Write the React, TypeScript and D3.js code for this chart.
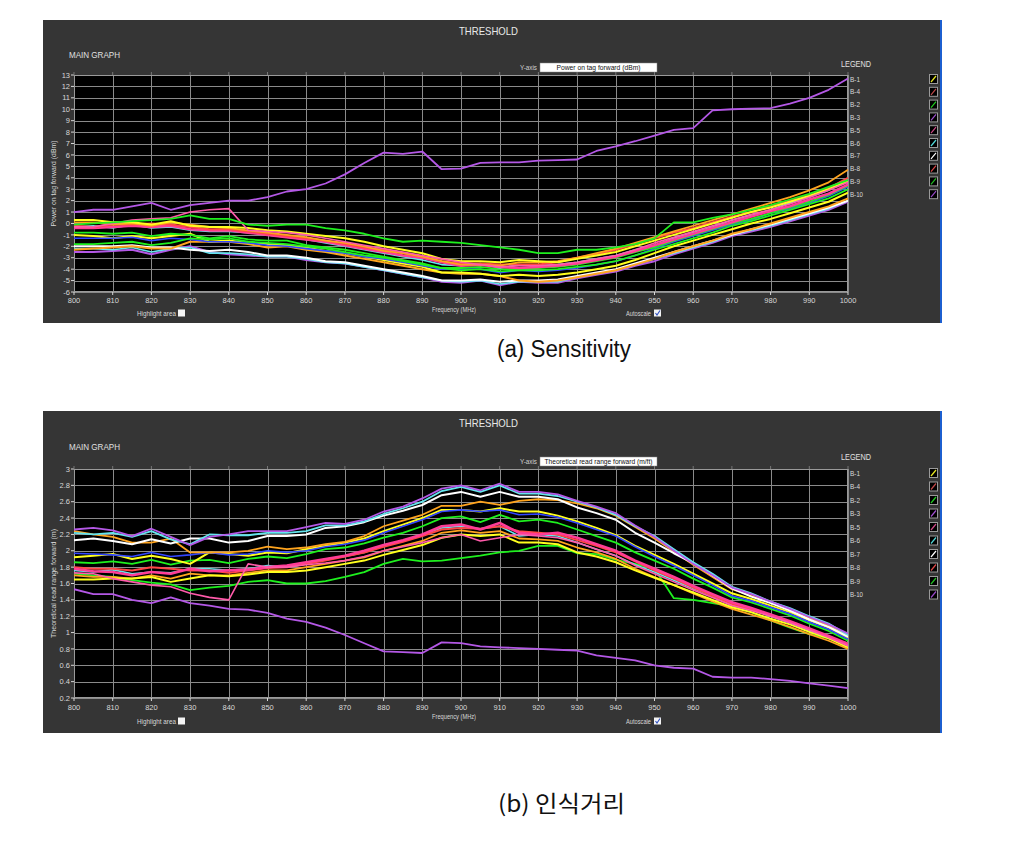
import React from 'react';
import * as d3 from 'd3';

// ---------- categories / ticks ----------
const FREQ = [800,805,810,815,820,825,830,835,840,845,850,855,860,865,870,875,880,885,890,895,900,905,910,915,920,925,930,935,940,945,950,955,960,965,970,975,980,985,990,995,1000];
const X_TICKS = [800,810,820,830,840,850,860,870,880,890,900,910,920,930,940,950,960,970,980,990,1000];
const SENS_Y_TICKS = [-6,-5,-4,-3,-2,-1,0,1,2,3,4,5,6,7,8,9,10,11,12,13];
const RANGE_Y_TICKS = [0.2,0.4,0.6,0.8,1,1.2,1.4,1.6,1.8,2,2.2,2.4,2.6,2.8,3];
const LEGEND_NAMES = ['B-1','B-4','B-2','B-3','B-5','B-6','B-7','B-8','B-9','B-10'];
const LEGEND_COLORS = ['#e8e820','#c04848','#20d020','#a050d0','#d04888','#50d8d8','#ffffff','#e04848','#20c020','#9848c8'];

// ---------- (a) Sensitivity: Power on tag forward (dBm) ----------
const S_PURPLE_TOP = [1.0,1.2,1.2,1.5,1.8,1.2,1.6,1.8,2.0,2.0,2.3,2.8,3.0,3.5,4.3,5.3,6.2,6.1,6.3,4.75,4.8,5.3,5.35,5.35,5.5,5.55,5.6,6.35,6.75,7.2,7.7,8.2,8.35,9.9,10.0,10.05,10.1,10.5,11.0,11.7,12.7];
const S_GREEN_1 = [-0.1,0.0,0.1,0.2,0.3,0.4,0.7,0.4,0.4,-0.1,-0.2,-0.1,-0.1,-0.4,-0.6,-0.9,-1.3,-1.6,-1.5,-1.6,-1.7,-1.9,-2.1,-2.3,-2.6,-2.6,-2.3,-2.3,-2.1,-1.8,-1.3,0.1,0.1,0.5,0.8,1.2,1.6,2.1,2.6,3.2,3.8];
const S_PINK_SPIKE = [-0.3,-0.3,0.0,0.3,0.4,0.5,1.0,1.2,1.3,-0.6,-0.7,-0.8,-1.0,-1.3,-1.6,-1.9,-2.2,-2.5,-2.8,-3.1,-3.4,-3.6,-3.8,-3.7,-3.7,-3.6,-3.4,-3.1,-2.8,-2.3,-1.7,-1.2,-0.7,-0.2,0.3,0.8,1.2,1.7,2.3,2.9,3.6];
const S_YELLOW_1 = [0.3,0.3,0.1,0.1,-0.1,0.2,-0.2,-0.3,-0.3,-0.4,-0.6,-0.7,-0.9,-1.1,-1.3,-1.6,-2.0,-2.3,-2.6,-3.1,-3.3,-3.3,-3.4,-3.2,-3.3,-3.4,-3.1,-2.8,-2.5,-2.0,-1.5,-1.0,-0.5,0.0,0.5,1.0,1.4,1.9,2.4,3.0,3.7];
const S_ORANGE_1 = [0.1,0.1,-0.1,0.0,-0.2,0.1,-0.1,-0.3,-0.4,-0.6,-0.8,-1.0,-1.2,-1.5,-1.7,-2.0,-2.4,-2.6,-2.9,-3.3,-3.6,-3.6,-3.7,-3.4,-3.4,-3.3,-3.0,-2.6,-2.2,-1.7,-1.2,-0.7,-0.2,0.3,0.8,1.3,1.8,2.3,2.9,3.6,4.7];
const S_RED_1 = [-0.2,-0.3,-0.1,-0.1,0.0,-0.1,-0.3,-0.5,-0.5,-0.7,-0.9,-1.1,-1.3,-1.5,-1.8,-2.1,-2.3,-2.6,-2.9,-3.3,-3.5,-3.5,-3.6,-3.6,-3.6,-3.4,-3.0,-2.7,-2.3,-1.8,-1.3,-0.8,-0.4,0.1,0.6,1.0,1.5,2.0,2.5,3.1,4.0];
const S_PINK_2 = [-0.4,-0.4,-0.3,-0.2,-0.3,-0.2,-0.5,-0.6,-0.6,-0.8,-1.0,-1.2,-1.4,-1.6,-1.9,-2.2,-2.5,-2.8,-3.0,-3.4,-3.7,-3.6,-3.8,-3.9,-3.8,-3.7,-3.5,-3.2,-2.9,-2.4,-1.9,-1.4,-0.9,-0.4,0.1,0.6,1.1,1.5,2.1,2.6,3.4];
const S_CYAN_1 = [-0.3,-0.2,-0.4,-0.1,-0.4,-0.3,-0.6,-0.7,-0.7,-0.8,-1.0,-1.2,-1.4,-1.7,-2.0,-2.3,-2.6,-2.9,-3.2,-3.6,-3.7,-3.5,-3.9,-3.6,-3.7,-3.6,-3.4,-3.1,-2.8,-2.3,-1.9,-1.3,-0.8,-0.3,0.3,0.7,1.2,1.8,2.3,2.9,3.9];
const S_GREEN_2 = [-0.8,-0.8,-0.9,-0.8,-1.1,-0.9,-1.0,-1.3,-1.1,-1.4,-1.5,-1.5,-1.9,-2.1,-2.3,-2.6,-2.9,-3.2,-3.5,-3.9,-4.1,-4.0,-4.2,-4.1,-4.1,-4.0,-3.8,-3.6,-3.3,-2.8,-2.3,-1.8,-1.3,-0.8,-0.2,0.2,0.7,1.2,1.7,2.2,3.0];
const S_BLUE = [-1.3,-1.3,-1.3,-1.2,-1.5,-1.3,-1.4,-1.6,-1.6,-1.7,-1.9,-2.0,-2.2,-2.4,-2.6,-2.9,-3.1,-3.4,-3.7,-4.0,-4.0,-4.0,-4.3,-4.1,-4.2,-4.1,-3.9,-3.6,-3.3,-2.8,-2.2,-1.6,-1.1,-0.6,-0.1,0.3,0.9,1.3,1.8,2.4,3.2];
const S_YELLOW_2 = [-1.0,-1.1,-1.3,-1.1,-1.3,-1.1,-0.9,-1.6,-1.5,-1.7,-1.8,-1.9,-2.1,-2.4,-2.6,-2.9,-3.2,-3.5,-3.8,-4.3,-4.3,-4.4,-4.6,-4.5,-4.6,-4.5,-4.3,-4.0,-3.7,-3.2,-2.6,-2.0,-1.5,-1.0,-0.5,0.0,0.4,0.9,1.4,1.9,2.7];
const S_ORANGE_2 = [-2.3,-2.2,-2.1,-2.0,-2.2,-2.2,-1.6,-1.6,-1.6,-1.8,-2.1,-2.0,-2.3,-2.5,-2.8,-3.1,-3.4,-3.7,-4.0,-4.3,-4.4,-4.4,-4.6,-5.0,-5.1,-5.0,-4.7,-4.4,-4.1,-3.6,-3.1,-2.5,-2.0,-1.5,-0.9,-0.5,0.0,0.5,1.0,1.5,2.2];
const S_WHITE = [-2.0,-2.0,-2.0,-1.9,-2.1,-2.1,-2.3,-2.4,-2.3,-2.5,-2.8,-2.8,-3.0,-3.3,-3.4,-3.7,-4.0,-4.3,-4.6,-5.0,-5.0,-4.9,-5.1,-5.0,-5.0,-4.9,-4.6,-4.3,-4.0,-3.5,-3.0,-2.5,-2.0,-1.5,-1.0,-0.5,-0.1,0.4,0.9,1.4,2.0];
const S_CYAN_2 = [-2.2,-2.2,-2.3,-2.1,-2.5,-2.2,-2.1,-2.6,-2.6,-2.7,-2.9,-2.9,-3.1,-3.4,-3.5,-3.8,-4.1,-4.4,-4.7,-5.0,-5.1,-5.0,-5.3,-5.1,-5.1,-5.1,-4.7,-4.4,-4.1,-3.6,-3.1,-2.6,-2.1,-1.6,-1.0,-0.6,-0.2,0.3,0.8,1.3,2.0];
const S_PURPLE_2 = [-2.5,-2.5,-2.4,-2.3,-2.7,-2.3,-2.0,-2.5,-2.7,-2.8,-2.9,-2.9,-3.2,-3.4,-3.5,-3.8,-4.1,-4.4,-4.7,-5.1,-5.2,-5.0,-5.4,-5.1,-5.2,-5.2,-4.8,-4.5,-4.2,-3.7,-3.3,-2.7,-2.2,-1.7,-1.1,-0.7,-0.3,0.2,0.7,1.2,1.9];
const S_GREEN_3 = [-1.8,-1.8,-1.7,-1.6,-1.9,-1.7,-1.3,-1.4,-1.3,-1.6,-1.7,-1.8,-2.0,-2.2,-2.5,-2.8,-3.0,-3.3,-3.6,-3.9,-3.9,-3.8,-4.0,-4.0,-3.9,-3.8,-3.6,-3.3,-3.0,-2.5,-2.1,-1.5,-1.0,-0.5,0.0,0.4,0.9,1.4,1.9,2.5,3.3];

// ---------- (b) 인식거리: Theoretical read range forward (m) ----------
const R_PURPLE_LOW = [1.53,1.47,1.47,1.40,1.36,1.43,1.36,1.33,1.29,1.28,1.24,1.17,1.13,1.06,0.97,0.87,0.77,0.76,0.75,0.88,0.87,0.83,0.82,0.81,0.80,0.79,0.78,0.72,0.69,0.66,0.60,0.57,0.56,0.46,0.45,0.45,0.43,0.41,0.38,0.35,0.32];
const R_PURPLE_TOP = [2.26,2.28,2.25,2.18,2.27,2.17,2.07,2.17,2.20,2.24,2.24,2.24,2.29,2.34,2.33,2.38,2.48,2.54,2.64,2.76,2.80,2.74,2.82,2.72,2.72,2.69,2.61,2.54,2.46,2.31,2.17,2.00,1.84,1.70,1.55,1.47,1.38,1.29,1.19,1.10,0.99];
const R_CYAN_TOP = [2.22,2.20,2.22,2.17,2.24,2.14,2.08,2.20,2.19,2.19,2.22,2.22,2.24,2.31,2.31,2.36,2.45,2.52,2.60,2.73,2.78,2.72,2.80,2.70,2.70,2.67,2.60,2.53,2.44,2.30,2.18,2.02,1.86,1.72,1.56,1.48,1.38,1.30,1.20,1.11,0.97];
const R_WHITE = [2.13,2.15,2.12,2.08,2.14,2.09,2.15,2.15,2.10,2.12,2.18,2.18,2.20,2.28,2.30,2.35,2.43,2.49,2.56,2.68,2.72,2.66,2.72,2.66,2.66,2.63,2.53,2.46,2.38,2.22,2.10,1.97,1.85,1.70,1.54,1.44,1.36,1.27,1.16,1.07,0.95];
const R_ORANGE_TOP = [2.24,2.20,2.17,2.10,2.10,2.15,1.98,1.98,1.98,2.00,2.05,2.02,2.04,2.08,2.11,2.18,2.30,2.37,2.44,2.55,2.55,2.60,2.56,2.61,2.63,2.62,2.58,2.52,2.43,2.29,2.15,1.99,1.83,1.68,1.53,1.45,1.37,1.28,1.18,1.09,0.96];
const R_BLUE = [1.97,1.96,1.95,1.93,1.98,1.93,1.95,1.98,1.95,1.96,2.00,1.98,2.00,2.05,2.08,2.13,2.22,2.30,2.38,2.48,2.50,2.48,2.50,2.44,2.45,2.41,2.34,2.26,2.18,2.05,1.93,1.82,1.70,1.58,1.45,1.39,1.31,1.23,1.13,1.04,0.92];
const R_YELLOW_1 = [1.92,1.94,1.96,1.90,1.94,1.90,1.84,1.98,1.96,1.94,1.98,1.97,2.02,2.06,2.10,2.15,2.24,2.32,2.40,2.50,2.50,2.48,2.52,2.48,2.48,2.43,2.36,2.28,2.19,2.06,1.95,1.84,1.72,1.60,1.48,1.41,1.33,1.25,1.15,1.06,0.93];
const R_GREEN_1 = [1.86,1.85,1.87,1.84,1.89,1.83,1.88,1.89,1.85,1.90,1.93,1.91,1.96,2.02,2.04,2.09,2.16,2.22,2.30,2.40,2.42,2.35,2.44,2.36,2.38,2.34,2.26,2.18,2.10,1.98,1.88,1.78,1.66,1.55,1.43,1.37,1.29,1.21,1.11,1.02,0.90];
const R_RED_1 = [1.80,1.78,1.78,1.76,1.80,1.78,1.76,1.76,1.73,1.76,1.79,1.80,1.84,1.88,1.93,1.98,2.05,2.11,2.18,2.26,2.28,2.27,2.30,2.24,2.22,2.20,2.13,2.06,1.98,1.87,1.76,1.66,1.55,1.45,1.35,1.28,1.21,1.13,1.04,0.95,0.84];
const R_PINK_1 = [1.78,1.75,1.74,1.70,1.74,1.72,1.78,1.75,1.76,1.77,1.80,1.82,1.86,1.90,1.94,2.00,2.07,2.13,2.20,2.30,2.32,2.26,2.34,2.22,2.20,2.22,2.16,2.08,2.00,1.88,1.78,1.68,1.57,1.47,1.37,1.30,1.22,1.14,1.05,0.96,0.86];
const R_CYAN_2 = [1.76,1.74,1.77,1.72,1.74,1.73,1.78,1.78,1.76,1.78,1.82,1.80,1.84,1.90,1.93,1.98,2.06,2.12,2.20,2.28,2.30,2.27,2.30,2.18,2.20,2.18,2.10,2.02,1.94,1.83,1.74,1.64,1.54,1.45,1.34,1.28,1.20,1.12,1.03,0.95,0.86];
const R_YELLOW_2 = [1.65,1.65,1.66,1.66,1.68,1.62,1.66,1.70,1.69,1.71,1.74,1.74,1.76,1.80,1.84,1.88,1.95,2.01,2.07,2.16,2.20,2.18,2.20,2.10,2.10,2.08,1.98,1.93,1.86,1.76,1.67,1.58,1.49,1.40,1.31,1.25,1.17,1.10,1.01,0.93,0.82];
const R_ORANGE_2 = [1.70,1.68,1.68,1.66,1.70,1.66,1.72,1.70,1.70,1.73,1.76,1.76,1.80,1.84,1.88,1.92,2.00,2.06,2.12,2.22,2.25,2.22,2.24,2.15,2.14,2.12,2.04,1.98,1.90,1.78,1.68,1.58,1.48,1.38,1.29,1.22,1.15,1.07,0.98,0.90,0.80];
const R_PINK_SPIKE = [1.73,1.72,1.66,1.62,1.58,1.56,1.48,1.43,1.40,1.84,1.80,1.80,1.83,1.85,1.88,1.93,2.00,2.05,2.10,2.16,2.20,2.12,2.16,2.20,2.18,2.16,2.10,2.02,1.94,1.82,1.72,1.62,1.52,1.43,1.33,1.27,1.20,1.12,1.03,0.94,0.84];
const R_GREEN_LOW = [1.72,1.70,1.68,1.64,1.61,1.59,1.52,1.55,1.57,1.62,1.64,1.60,1.60,1.63,1.68,1.74,1.84,1.90,1.87,1.88,1.91,1.94,1.98,2.00,2.06,2.06,1.97,1.96,1.89,1.84,1.78,1.42,1.40,1.36,1.32,1.25,1.15,1.06,0.98,0.93,0.87];

const COL = {
  yellow: '#ffff1e', orange: '#ffa41e', green: '#1ef01e', purple: '#b458e6', pink: '#ff3c96',
  cyan: '#64e6ee', white: '#ffffff', red: '#ff4646', blue: '#3246ff', hotpink: '#ff5aaa',
};

type Series = { values: number[]; color: string; w: number };

const SENS_SERIES: Series[] = [
  { values: S_PURPLE_2, color: COL.purple, w: 2 },
  { values: S_CYAN_2, color: COL.cyan, w: 1.6 },
  { values: S_WHITE, color: COL.white, w: 2 },
  { values: S_ORANGE_2, color: COL.orange, w: 2 },
  { values: S_YELLOW_2, color: COL.yellow, w: 2 },
  { values: S_BLUE, color: COL.blue, w: 1.6 },
  { values: S_GREEN_3, color: COL.green, w: 1.8 },
  { values: S_GREEN_2, color: COL.green, w: 1.8 },
  { values: S_CYAN_1, color: COL.cyan, w: 1.6 },
  { values: S_PINK_2, color: COL.pink, w: 2.6 },
  { values: S_RED_1, color: COL.red, w: 2 },
  { values: S_ORANGE_1, color: COL.orange, w: 1.8 },
  { values: S_YELLOW_1, color: COL.yellow, w: 2 },
  { values: S_PINK_SPIKE, color: COL.hotpink, w: 1.6 },
  { values: S_GREEN_1, color: COL.green, w: 1.8 },
  { values: S_PURPLE_TOP, color: COL.purple, w: 1.8 },
];

const RANGE_SERIES: Series[] = [
  { values: R_PURPLE_LOW, color: COL.purple, w: 1.8 },
  { values: R_GREEN_LOW, color: COL.green, w: 1.8 },
  { values: R_ORANGE_2, color: COL.orange, w: 1.8 },
  { values: R_YELLOW_2, color: COL.yellow, w: 2 },
  { values: R_CYAN_2, color: COL.cyan, w: 1.6 },
  { values: R_RED_1, color: COL.red, w: 2 },
  { values: R_PINK_1, color: COL.pink, w: 2.6 },
  { values: R_PINK_SPIKE, color: COL.hotpink, w: 1.6 },
  { values: R_GREEN_1, color: COL.green, w: 1.8 },
  { values: R_YELLOW_1, color: COL.yellow, w: 2 },
  { values: R_BLUE, color: COL.blue, w: 1.6 },
  { values: R_ORANGE_TOP, color: COL.orange, w: 1.8 },
  { values: R_WHITE, color: COL.white, w: 2 },
  { values: R_CYAN_TOP, color: COL.cyan, w: 1.8 },
  { values: R_PURPLE_TOP, color: COL.purple, w: 1.8 },
];

const UI_FONT = "'Liberation Sans', Arial, sans-serif";
const TEXT_COL = '#d8d8d8';

type PanelProps = {
  id: string;
  top: number;
  height: number;
  plotTop: number;
  plotBottom: number;
  yDomain: [number, number];
  yTicks: number[];
  yTitle: string;
  yTitleLen: number;
  yBox: string;
  yBoxLen: number;
  series: Series[];
  legendTop: number;
  legendStep: number;
  rel: { thr: number; main: number; box: number; legend: number; xlab: number; freq: number; hl: number };
};

function Panel(p: PanelProps) {
  const left = 43, right = 940;
  const pl = 74, pr = 848;
  const x = d3.scaleLinear().domain([800, 1000]).range([pl, pr]);
  const y = d3.scaleLinear().domain(p.yDomain).range([p.plotBottom, p.plotTop]);
  const line = d3.line<number>().x((_, i) => x(FREQ[i])).y((v) => y(v));
  const fmt = (v: number) => String(+v.toFixed(1));
  const midY = (p.plotTop + p.plotBottom) / 2;
  return (
    <g>
      <rect x={left} y={p.top} width={right - left} height={p.height} fill="#353535" />
      <rect x={right} y={p.top} width={2} height={p.height} fill="#1c5fd0" />
      <clipPath id={p.id}>
        <rect x={pl} y={p.plotTop} width={pr - pl} height={p.plotBottom - p.plotTop} />
      </clipPath>
      <rect x={pl} y={p.plotTop} width={pr - pl} height={p.plotBottom - p.plotTop} fill="#000" />
      {/* grid */}
      {p.yTicks.map((t) => (
        <line key={'gy' + t} x1={pl} x2={pr} y1={Math.round(y(t)) + 0.5} y2={Math.round(y(t)) + 0.5} stroke="#8a8a8a" strokeWidth={1} />
      ))}
      {X_TICKS.map((t) => (
        <line key={'gx' + t} x1={Math.round(x(t)) + 0.5} x2={Math.round(x(t)) + 0.5} y1={p.plotTop} y2={p.plotBottom} stroke="#8a8a8a" strokeWidth={1} />
      ))}
      <rect x={pl + 0.5} y={p.plotTop + 0.5} width={pr - pl - 1} height={p.plotBottom - p.plotTop - 1} fill="none" stroke="#9a9a9a" />
      {/* y ticks */}
      {p.yTicks.map((t) => (
        <g key={'ty' + t}>
          <line x1={pl - 3} x2={pl} y1={y(t)} y2={y(t)} stroke={TEXT_COL} />
          <text x={pl - 4} y={y(t)} dy="0.35em" textAnchor="end" fontSize={7.5} fill={TEXT_COL} fontFamily={UI_FONT}>{fmt(t)}</text>
        </g>
      ))}
      {X_TICKS.map((t) => (
        <g key={'tx' + t}>
          <line x1={x(t)} x2={x(t)} y1={p.plotBottom} y2={p.plotBottom + 3} stroke={TEXT_COL} />
          <line x1={x(t)} x2={x(t)} y1={p.plotTop - 3} y2={p.plotTop} stroke="#777" />
          <text x={x(t)} y={p.top + p.rel.xlab} dy="0.35em" textAnchor="middle" fontSize={7.5} fill={TEXT_COL} fontFamily={UI_FONT}>{t}</text>
        </g>
      ))}
      {/* series */}
      <g clipPath={`url(#${p.id})`}>
        {p.series.map((s, i) => (
          <path key={i} d={line(s.values) || ''} fill="none" stroke={s.color} strokeWidth={s.w} strokeLinejoin="round" />
        ))}
      </g>
      {/* labels */}
      <text x={459} y={p.top + p.rel.thr} fontSize={11} fill="#e8e8e8" fontFamily={UI_FONT} textLength={59} lengthAdjust="spacingAndGlyphs">THRESHOLD</text>
      <text x={69} y={p.top + p.rel.main} fontSize={9.5} fill="#e0e0e0" fontFamily={UI_FONT} textLength={51} lengthAdjust="spacingAndGlyphs">MAIN GRAPH</text>
      <text x={520} y={p.top + p.rel.box + 4.5} dy="0.35em" fontSize={7} fill="#d0d0d0" fontFamily={UI_FONT} textLength={17} lengthAdjust="spacingAndGlyphs">Y-axis</text>
      <rect x={540} y={p.top + p.rel.box} width={117} height={9} fill="#ffffff" stroke="#888" strokeWidth={0.5} />
      <text x={598.5} y={p.top + p.rel.box + 4.5} dy="0.35em" textAnchor="middle" fontSize={7} fill="#111" fontFamily={UI_FONT} textLength={p.yBoxLen} lengthAdjust="spacingAndGlyphs">{p.yBox}</text>
      <text x={841} y={p.top + p.rel.legend} fontSize={9} fill="#e0e0e0" fontFamily={UI_FONT} textLength={30} lengthAdjust="spacingAndGlyphs">LEGEND</text>
      {LEGEND_NAMES.map((n, i) => {
        const cy = p.legendTop + i * p.legendStep;
        return (
          <g key={n}>
            <text x={850} y={cy} dy="0.35em" fontSize={7.5} fill={TEXT_COL} fontFamily={UI_FONT} textLength={n.length === 4 ? 13 : 10} lengthAdjust="spacingAndGlyphs">{n}</text>
            <rect x={929.5} y={cy - 4.5} width={8} height={9} fill="#000" stroke="#9a9a9a" strokeWidth={1} />
            <line x1={931} y1={cy + 3} x2={936} y2={cy - 3} stroke={LEGEND_COLORS[i]} strokeWidth={1.2} />
          </g>
        );
      })}
      <text x={432} y={p.top + p.rel.freq} dy="0.35em" fontSize={7} fill={TEXT_COL} fontFamily={UI_FONT} textLength={44} lengthAdjust="spacingAndGlyphs">Frequency (MHz)</text>
      <text x={137} y={p.top + p.rel.hl} dy="0.35em" fontSize={7.5} fill={TEXT_COL} fontFamily={UI_FONT} textLength={39} lengthAdjust="spacingAndGlyphs">Highlight area</text>
      <rect x={178} y={p.top + p.rel.hl - 3.5} width={7} height={7} fill="#f4f4f4" />
      <text x={626} y={p.top + p.rel.hl} dy="0.35em" fontSize={7.5} fill={TEXT_COL} fontFamily={UI_FONT} textLength={25} lengthAdjust="spacingAndGlyphs">Autoscale</text>
      <rect x={654} y={p.top + p.rel.hl - 3.5} width={7} height={7} fill="#f4f4f4" />
      <path d={`M655.5,${p.top + p.rel.hl} l1.5,2 l3,-4.5`} fill="none" stroke="#3050c0" strokeWidth={1.1} />
      <text transform={`translate(54,${midY}) rotate(-90)`} textAnchor="middle" dy="0.35em" fontSize={7} fill={TEXT_COL} fontFamily={UI_FONT} textLength={p.yTitleLen} lengthAdjust="spacingAndGlyphs">{p.yTitle}</text>
    </g>
  );
}

export default function App() {
  return (
    <svg width={1011} height={851} style={{ position: 'absolute', left: 0, top: 0, background: '#ffffff' }}>
      <rect x={0} y={0} width={1011} height={851} fill="#ffffff" />
      <Panel
        id="clipA" top={20} height={303} plotTop={75} plotBottom={292}
        yDomain={[-6, 13]} yTicks={SENS_Y_TICKS}
        yTitle="Power on tag forward (dBm)" yTitleLen={86} yBox="Power on tag forward (dBm)" yBoxLen={84}
        series={SENS_SERIES} legendTop={79} legendStep={12.8}
        rel={{ thr: 15, main: 38, box: 43, legend: 47, xlab: 280, freq: 290, hl: 293 }}
      />
      <Panel
        id="clipB" top={411} height={322} plotTop={469} plotBottom={698}
        yDomain={[0.2, 3]} yTicks={RANGE_Y_TICKS}
        yTitle="Theoretical read range forward (m)" yTitleLen={109} yBox="Theoretical read range forward (m/ft)" yBoxLen={108}
        series={RANGE_SERIES} legendTop={473} legendStep={13.5}
        rel={{ thr: 16, main: 39, box: 46, legend: 49, xlab: 296, freq: 306, hl: 310 }}
      />
      <text x={497} y={357} fontSize={23} fill="#111" fontFamily="'Liberation Sans', sans-serif" textLength={134} lengthAdjust="spacingAndGlyphs">(a) Sensitivity</text>
      <text x={498} y={812} fontSize={23} fill="#111" fontFamily="'Noto Sans CJK KR', 'Liberation Sans', sans-serif" textLength={127} lengthAdjust="spacingAndGlyphs">(b) 인식거리</text>
    </svg>
  );
}
